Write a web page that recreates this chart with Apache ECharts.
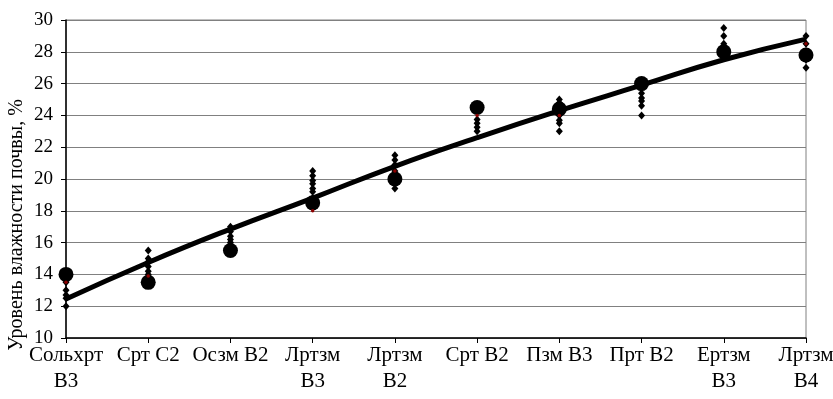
<!DOCTYPE html>
<html><head><meta charset="utf-8">
<script src="https://cdn.jsdelivr.net/npm/echarts@6/dist/echarts.min.js"></script>
<style>html,body{margin:0;padding:0;background:#fff}#c{width:833px;height:399px}</style>
</head><body><div id="c"></div>
<script>
const categories = ["Сольхрт\nВ3","Срт С2","Осзм В2","Лртзм\nВ3","Лртзм\nВ2","Срт В2","Пзм В3","Прт В2","Ертзм\nВ3","Лртзм\nВ4"];
const yTicks = {min: 10, max: 30, interval: 2};
const yName = "Уровень влажности почвы, %";
const observed = [
  [13.5, 13.0, 12.7, 12.5, 12.0],
  [15.5, 15.0, 14.8, 14.5, 14.2, 14.0, 13.7],
  [17.0, 16.7, 16.4, 16.2, 16.0],
  [20.5, 20.2, 19.9, 19.7, 19.4, 19.2, 18.8],
  [21.5, 21.2, 20.9, 20.5, 20.2, 19.7, 19.4],
  [23.75, 23.5, 23.25, 23.0],
  [25.0, 24.8, 24.5, 24.2, 24.0, 23.7, 23.5, 23.0],
  [25.7, 25.4, 25.1, 24.9, 24.6, 24.0],
  [29.5, 29.0, 28.5, 28.2, 27.8],
  [29.0, 28.5, 28.0, 27.5, 27.0]
];
const means = [14.0, 13.5, 15.5, 18.5, 20.0, 24.5, 24.4, 26.0, 28.0, 27.8];
const redMarks = [13.5, 13.9, null, 18.0, 20.5, 24.0, 24.0, null, null, 28.5];
const trend = [12.45, 14.75, 16.85, 18.8, 20.8, 22.6, 24.3, 25.9, 27.5, 28.8];

const diamondData = [];
observed.forEach((arr, i) => arr.forEach(v => diamondData.push([i, v])));
const meanData = means.map((v, i) => [i, v]);
const redData = [];
redMarks.forEach((v, i) => { if (v !== null) redData.push([i, v]); });

const font = "'Liberation Serif', 'DejaVu Serif', serif";
const chart = echarts.init(document.getElementById('c'), null, {renderer: 'canvas'});
chart.setOption({
  animation: false,
  backgroundColor: '#fff',
  grid: {left: 66, right: 27, top: 20, bottom: 61, show: true, borderColor: '#808080', borderWidth: 1,
         containLabel: false, outerBoundsMode: 'none'},
  xAxis: {
    type: 'category', data: categories, boundaryGap: false,
    axisLine: {lineStyle: {color: '#000', width: 1.5}},
    axisTick: {show: true, inside: false, length: 5, alignWithLabel: true, lineStyle: {color: '#000'}},
    axisLabel: {color: '#000', fontFamily: font, fontSize: 21, lineHeight: 26, margin: 4, interval: 0},
    splitLine: {show: false}
  },
  yAxis: {
    type: 'value', min: yTicks.min, max: yTicks.max, interval: yTicks.interval,
    axisLine: {show: true, lineStyle: {color: '#000', width: 1.5}},
    axisTick: {show: true, length: 5, lineStyle: {color: '#000'}},
    axisLabel: {color: '#000', fontFamily: font, fontSize: 19, margin: 13},
    splitLine: {show: true, lineStyle: {color: '#808080', width: 1}}
  },
  graphic: [{
    type: 'text', x: 17, y: 225, rotation: Math.PI / 2,
    style: {text: yName, fill: '#000', font: "20px " + font, align: 'center', verticalAlign: 'middle'}
  }],
  series: [
    {type: 'scatter', data: diamondData, symbol: 'diamond', symbolSize: [7, 8],
     itemStyle: {color: '#000', opacity: 1}, z: 2},
    {type: 'line', data: trend, smooth: true, showSymbol: false, symbol: 'none',
     lineStyle: {color: '#000', width: 5}, z: 3},
    {type: 'scatter', data: meanData, symbol: 'circle', symbolSize: 15,
     itemStyle: {color: '#000', opacity: 1}, z: 4},
    {type: 'scatter', data: redData, symbol: 'circle', symbolSize: 3.5,
     itemStyle: {color: '#8b0000', opacity: 1}, z: 5}
  ]
});
</script></body></html>
